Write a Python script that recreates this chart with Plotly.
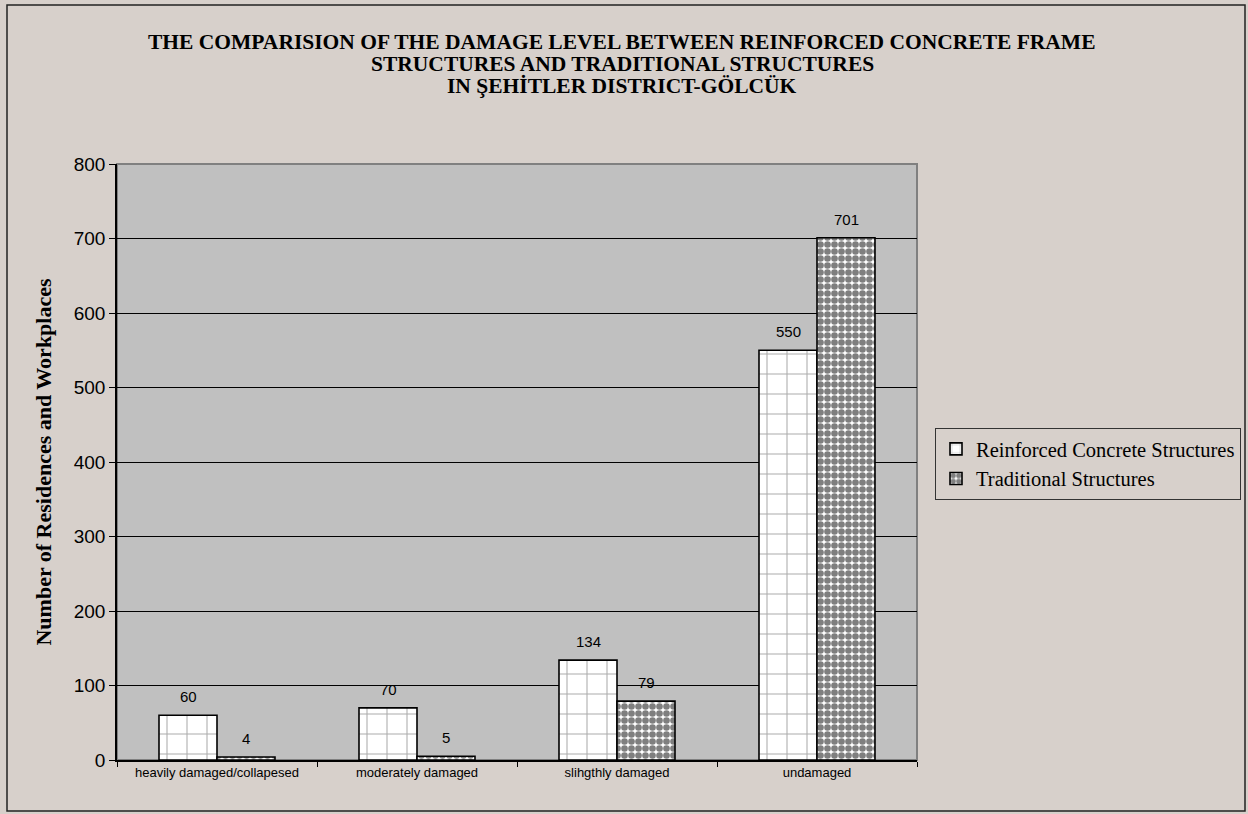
import plotly.graph_objects as go

# Damage survey counts, Şehitler district (Gölcük)
categories = ["heavily damaged/collapesed", "moderately damaged", "slihgthly damaged", "undamaged"]
reinforced = [60, 70, 134, 550]
traditional = [4, 5, 79, 701]
series_names = ["Reinforced Concrete Structures", "Traditional Structures"]
y_ticks = [0, 100, 200, 300, 400, 500, 600, 700, 800]
title_lines = [
    "THE COMPARISION OF THE DAMAGE LEVEL BETWEEN REINFORCED CONCRETE FRAME",
    "STRUCTURES AND TRADITIONAL STRUCTURES",
    "IN ŞEHİTLER DISTRICT-GÖLCÜK",
]

PAGE_BG = "#D7D0CB"
PLOT_BG = "#C0C0C0"
SERIF = "Liberation Serif, Times New Roman, serif"
SANS = "Liberation Sans, Arial, sans-serif"
W, H = 1248, 814
ML, MR, MT, MB = 117, 331, 164, 54
PW, PH = W - ML - MR, H - MT - MB
BARGAP = 0.42

fig = go.Figure()
fig.add_trace(go.Bar(
    name=series_names[0], x=categories, y=reinforced,
    marker=dict(color="white", line=dict(color="black", width=1.6),
                pattern=dict(shape="+", fgcolor="#555555", bgcolor="white",
                             size=20, solidity=0.1)),
))
fig.add_trace(go.Bar(
    name=series_names[1], x=categories, y=traditional,
    marker=dict(color="white", line=dict(color="black", width=1.6),
                pattern=dict(shape=".", fgcolor="black", bgcolor="white",
                             size=7, solidity=0.7)),
))

# value labels above each bar
bar_px = PW / len(categories) * (1 - BARGAP) / 2
for vals, dx in ((reinforced, -bar_px / 2), (traditional, bar_px / 2)):
    for c, v in zip(categories, vals):
        fig.add_annotation(x=c, y=v, text=str(v), showarrow=False,
                           xshift=dx, yshift=8, yanchor="bottom",
                           font=dict(family=SANS, size=15, color="black"))


def px_x(p):
    return (p - ML) / PW


def px_y(p):
    return (H - MB - p) / PH


# three-line bold title
for i, line in enumerate(title_lines):
    fig.add_annotation(xref="paper", yref="paper", x=px_x(622), y=px_y(42 + 22 * i),
                       text="<b>" + line + "</b>", showarrow=False,
                       xanchor="center", yanchor="middle",
                       font=dict(family=SERIF, size=21.5, color="black"))

shapes = [
    # outer chart frame
    dict(type="rect", xref="paper", yref="paper", layer="below",
         x0=px_x(7), x1=px_x(1245), y0=px_y(811), y1=px_y(5),
         line=dict(color="#222222", width=1.5)),
    # plot area frame (top/right in gray)
    dict(type="rect", xref="paper", yref="paper", layer="below",
         x0=0, x1=1, y0=0, y1=1, line=dict(color="#808080", width=2)),
]

fig.update_layout(
    width=W, height=H,
    margin=dict(l=ML, r=MR, t=MT, b=MB, autoexpand=False),
    paper_bgcolor=PAGE_BG, plot_bgcolor=PLOT_BG,
    barmode="group", bargap=BARGAP, bargroupgap=0,
    shapes=shapes,
    legend=dict(
        x=px_x(935), y=px_y(428), xref="paper", yref="paper",
        xanchor="left", yanchor="top",
        bgcolor=PAGE_BG, bordercolor="#333333", borderwidth=1,
        font=dict(family=SERIF, size=20.5, color="black"),
        itemwidth=30, tracegroupgap=0,
    ),
    xaxis=dict(
        showline=True, linecolor="black", linewidth=1.5,
        ticks="outside", tickson="boundaries", ticklen=5, tickcolor="black",
        tickfont=dict(family=SANS, size=13, color="black"),
        showgrid=False,
    ),
    yaxis=dict(
        range=[0, 800], tickvals=y_ticks,
        showline=True, linecolor="black", linewidth=1.5,
        ticks="outside", ticklen=6, tickcolor="black",
        showgrid=True, gridcolor="black", gridwidth=1,
        zeroline=False,
        tickfont=dict(family=SANS, size=19, color="black"),
        title=dict(text="<b>Number of Residences and Workplaces</b>", standoff=16,
                   font=dict(family=SERIF, size=22, color="black")),
    ),
    showlegend=True,
)

fig.write_html("out.html")
